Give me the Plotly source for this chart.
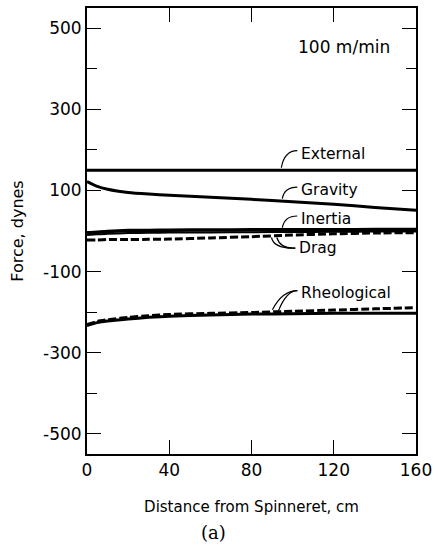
import plotly.graph_objects as go

# ---- data ----
x_cm = [0, 5, 10, 20, 30, 40, 60, 80, 100, 120, 140, 160]
external = [150, 150, 150, 150, 150, 150, 150, 150, 150, 150, 150, 150]
gravity = [122, 110, 103, 95, 91, 88, 83, 78, 72, 66, 58, 51]
inertia = [-5, -3, -1, 1, 1.5, 2, 2.5, 3, 3, 3, 3.5, 4]
drag_solid = [-10, -8, -7, -5, -4.5, -4, -3.5, -3, -2.5, -2, -1.5, -1]
drag_dashed = [-22, -22, -21, -21, -20.5, -20, -17, -14, -10, -7, -5, -4]
rheo_solid = [-233, -226, -222, -217, -213, -210, -207, -205, -204, -203, -203, -203]
rheo_dashed = [-231, -223, -219, -213, -209, -206, -203, -201, -198, -195, -192, -189]

x_ticks = [0, 40, 80, 120, 160]
y_ticks = [-500, -300, -100, 100, 300, 500]
y_minor = [-400, -200, 0, 200, 400]

FONT = "DejaVu Sans"
BLACK = "#000000"

fig = go.Figure()

def add_line(y, dash="solid", width=3):
    fig.add_trace(go.Scatter(x=x_cm, y=y, mode="lines",
                             line=dict(color=BLACK, width=width, dash=dash, shape="spline", smoothing=0.6),
                             showlegend=False, hoverinfo="skip"))

add_line(external, width=3)
add_line(gravity, width=3)
add_line(drag_dashed, dash="8px,3px", width=3)
add_line(drag_solid, width=2)
add_line(inertia, width=3.5)
add_line(rheo_solid, width=3)
add_line(rheo_dashed, dash="8px,3px", width=3)

# labels: (text, x, y)
labels = [("External", 103.3, 189), ("Gravity", 103.3, 100), ("Inertia", 103.3, 29),
          ("Drag", 102.3, -42), ("Rheological", 103.3, -154)]
for t, lx, ly in labels:
    fig.add_annotation(x=lx, y=ly, text=t, showarrow=False, xanchor="left", yanchor="middle",
                       font=dict(family=FONT, size=15.5, color=BLACK))

fig.add_annotation(x=125, y=453, text="100 m/min", showarrow=False,
                   font=dict(family=FONT, size=17, color=BLACK))

# curved leaders: (start, control, tip)
leaders = [((102.3, 198), (96, 198), (94.5, 156)),
           ((102.3, 108), (96, 108), (95, 80)),
           ((102.3, 37), (96, 37), (95, 8)),
           ((101.3, -42), (91, -44), (89.7, -16)),
           ((101.3, -42), (94, -44), (92.3, -16)),
           ((102.3, -147), (95, -147), (90.2, -194)),
           ((102.3, -147), (97, -147), (93.1, -197))]
for (sx, sy), (cx, cy), (ex, ey) in leaders:
    fig.add_shape(type="path", xref="x", yref="y",
                  path=f"M {sx},{sy} Q {cx},{cy} {ex},{ey}",
                  line=dict(color=BLACK, width=1.2))

fig.add_annotation(x=0.385, y=-0.2045, xref="paper", yref="paper", text="(a)", showarrow=False,
                   font=dict(family="DejaVu Serif", size=18, color=BLACK), yanchor="bottom")

fig.update_xaxes(range=[0, 160], tickvals=x_ticks, ticktext=[str(v) for v in x_ticks],
                 ticks="inside", ticklen=14, tickwidth=1.2, tickcolor=BLACK,
                 showline=True, linecolor=BLACK, linewidth=2, mirror="ticks",
                 showgrid=False, zeroline=False,
                 tickfont=dict(family=FONT, size=17, color=BLACK),
                 title=dict(text="Distance from Spinneret, cm", font=dict(family=FONT, size=15, color=BLACK), standoff=22))
fig.update_yaxes(range=[-550, 550], tickvals=y_ticks, ticktext=[str(v) for v in y_ticks],
                 ticks="inside", ticklen=14, tickwidth=1.2, tickcolor=BLACK,
                 minor=dict(tickvals=y_minor, ticks="inside", ticklen=10, tickwidth=1.2, tickcolor=BLACK),
                 showline=True, linecolor=BLACK, linewidth=2, mirror="ticks",
                 showgrid=False, zeroline=False,
                 tickfont=dict(family=FONT, size=17, color=BLACK),
                 title=dict(text="Force, dynes", font=dict(family=FONT, size=16, color=BLACK), standoff=15))

fig.update_layout(width=438, height=545, margin=dict(l=87, r=21, t=6, b=91),
                  plot_bgcolor="white", paper_bgcolor="white", showlegend=False)

fig.write_html("out.html")
